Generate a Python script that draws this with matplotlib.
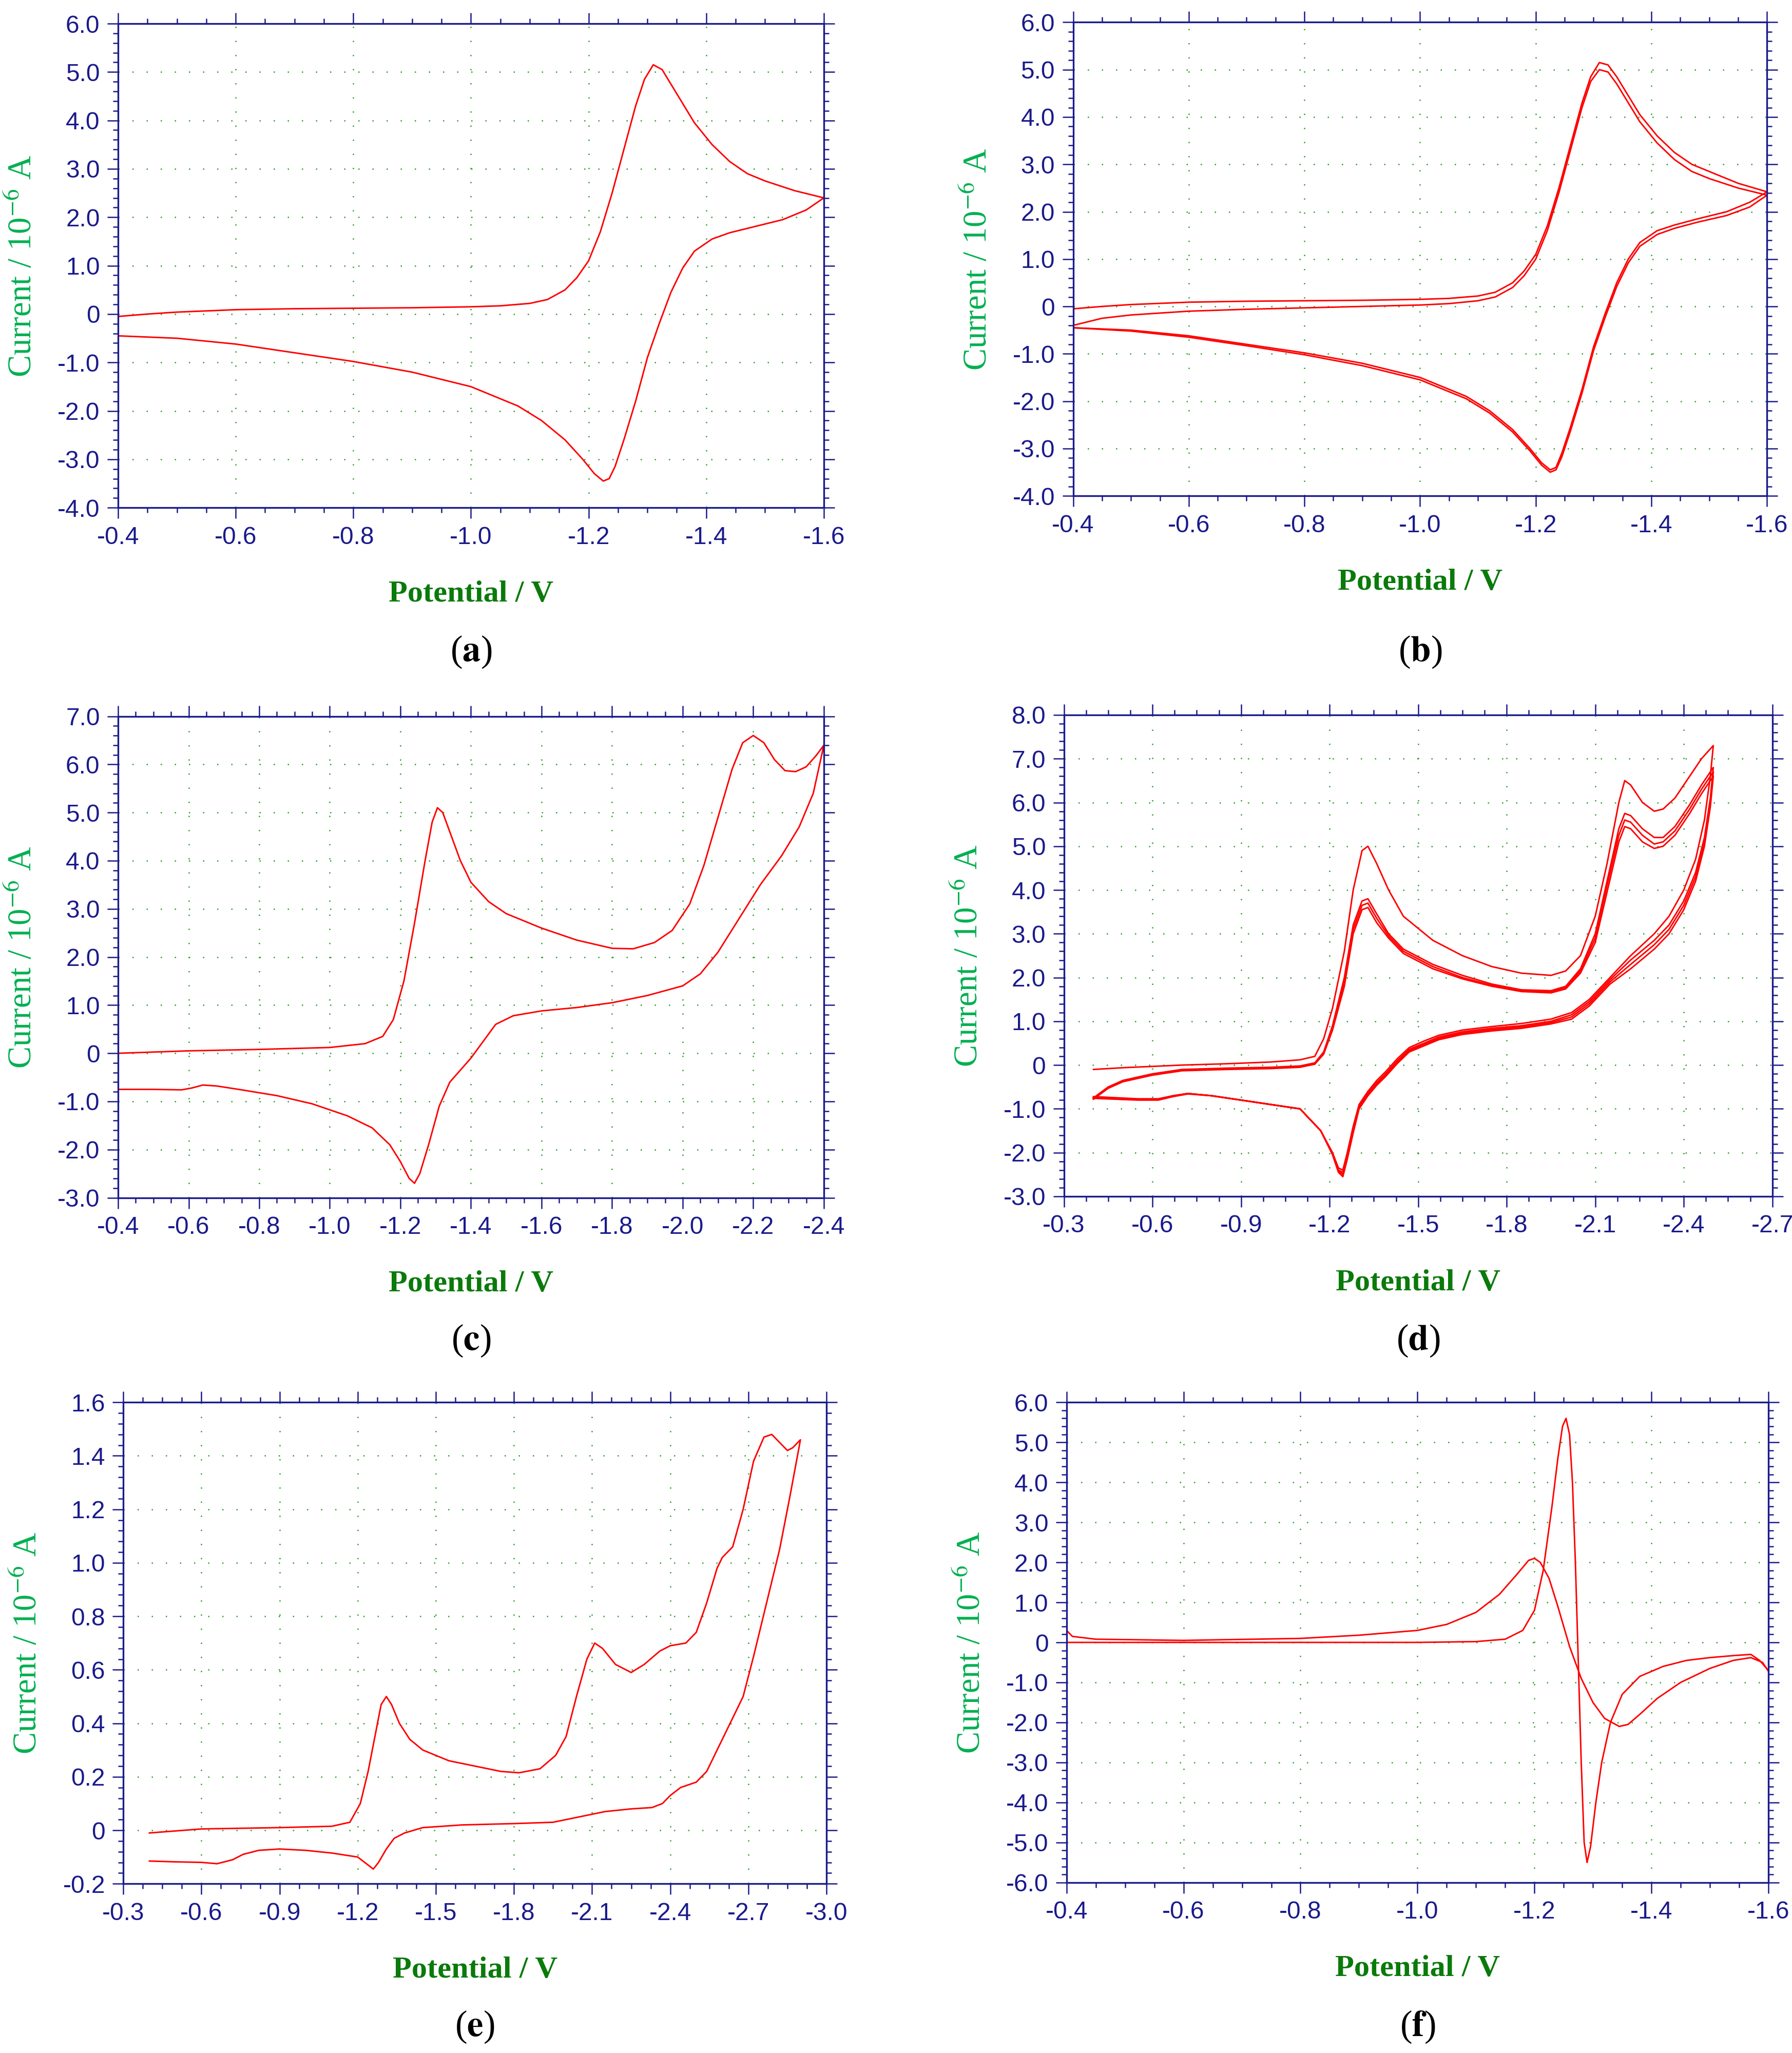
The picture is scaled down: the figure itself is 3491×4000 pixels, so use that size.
import matplotlib
matplotlib.use("Agg")
import matplotlib.pyplot as plt
from matplotlib.ticker import MultipleLocator, FuncFormatter

plt.rcParams["mathtext.fontset"] = "stix"

# ---------------- data (potential V, current 1e-6 A) ----------------
a_x = [-0.4,-0.45,-0.5,-0.6,-0.7,-0.8,-0.9,-1.0,-1.05,-1.1,-1.13,-1.16,-1.18,-1.2,-1.22,-1.24,-1.26,-1.28,-1.295,-1.31,-1.325,-1.34,-1.36,-1.38,-1.41,-1.44,-1.47,-1.5,-1.55,-1.6,
       -1.57,-1.53,-1.48,-1.44,-1.41,-1.38,-1.36,-1.34,-1.32,-1.3,-1.28,-1.26,-1.245,-1.235,-1.225,-1.21,-1.19,-1.16,-1.12,-1.08,-1.0,-0.9,-0.8,-0.7,-0.6,-0.5,-0.4]
a_y = [-0.05,0.0,0.04,0.09,0.11,0.12,0.13,0.15,0.17,0.22,0.3,0.5,0.75,1.1,1.7,2.5,3.4,4.3,4.85,5.15,5.05,4.75,4.35,3.95,3.5,3.15,2.9,2.75,2.55,2.4,
       2.15,1.95,1.8,1.68,1.55,1.3,0.95,0.45,-0.2,-0.9,-1.8,-2.6,-3.15,-3.4,-3.45,-3.3,-3.0,-2.6,-2.2,-1.9,-1.5,-1.2,-0.98,-0.8,-0.62,-0.5,-0.45]

b_x = a_x
b1_y = [-0.05,0.0,0.04,0.09,0.11,0.12,0.13,0.15,0.17,0.22,0.3,0.5,0.75,1.1,1.7,2.5,3.4,4.3,4.85,5.15,5.1,4.85,4.45,4.05,3.6,3.25,3.0,2.85,2.6,2.42,
        2.2,2.0,1.85,1.72,1.6,1.35,1.0,0.5,-0.15,-0.85,-1.75,-2.55,-3.1,-3.4,-3.45,-3.3,-3.0,-2.6,-2.2,-1.9,-1.5,-1.2,-0.98,-0.8,-0.62,-0.5,-0.45]
b2_y = [-0.4,-0.25,-0.18,-0.1,-0.06,-0.03,0.0,0.03,0.06,0.12,0.2,0.4,0.65,1.0,1.6,2.4,3.3,4.2,4.75,5.0,4.95,4.7,4.3,3.9,3.45,3.1,2.85,2.7,2.5,2.35,
        2.1,1.92,1.78,1.65,1.52,1.27,0.92,0.42,-0.23,-0.93,-1.83,-2.63,-3.18,-3.45,-3.5,-3.35,-3.05,-2.65,-2.25,-1.95,-1.55,-1.25,-1.02,-0.83,-0.65,-0.52,-0.45]

c_x = [-0.4,-0.6,-0.8,-1.0,-1.1,-1.15,-1.18,-1.21,-1.24,-1.27,-1.29,-1.305,-1.32,-1.34,-1.37,-1.4,-1.45,-1.5,-1.6,-1.7,-1.8,-1.86,-1.92,-1.97,-2.02,-2.06,-2.1,-2.14,-2.17,-2.2,-2.23,-2.26,-2.29,-2.32,-2.35,-2.38,-2.4,
       -2.37,-2.33,-2.28,-2.22,-2.16,-2.1,-2.05,-2.0,-1.9,-1.8,-1.7,-1.6,-1.52,-1.47,-1.43,-1.4,-1.37,-1.34,-1.31,-1.28,-1.255,-1.24,-1.225,-1.2,-1.17,-1.12,-1.05,-0.95,-0.85,-0.75,-0.68,-0.64,-0.61,-0.58,-0.5,-0.4]
c_y = [0.0,0.05,0.08,0.12,0.2,0.35,0.7,1.5,2.7,4.0,4.8,5.1,5.0,4.6,4.0,3.55,3.15,2.9,2.6,2.35,2.18,2.17,2.3,2.55,3.1,3.9,4.9,5.9,6.45,6.6,6.45,6.1,5.87,5.85,5.95,6.2,6.4,
       5.4,4.7,4.1,3.5,2.8,2.1,1.65,1.4,1.2,1.05,0.95,0.88,0.78,0.6,0.2,-0.1,-0.35,-0.6,-1.1,-1.9,-2.5,-2.7,-2.6,-2.25,-1.9,-1.55,-1.3,-1.05,-0.88,-0.76,-0.68,-0.66,-0.72,-0.76,-0.75,-0.75]

d_fx = [-0.4,-0.45,-0.5,-0.6,-0.7,-0.85,-1.0,-1.1,-1.15,-1.18,-1.21,-1.25,-1.28,-1.31,-1.33,-1.36,-1.4,-1.45,-1.55,-1.65,-1.75,-1.85,-1.95,-2.0,-2.05,-2.1,-2.14,-2.18,-2.2,-2.22,-2.26,-2.3,-2.33,-2.37,-2.42,-2.46,-2.5]
d1_fy = [-0.1,-0.08,-0.06,-0.03,0.0,0.03,0.07,0.12,0.2,0.6,1.3,2.6,4.0,4.9,5.0,4.6,4.0,3.4,2.85,2.5,2.25,2.1,2.05,2.15,2.5,3.4,4.6,6.0,6.5,6.4,6.0,5.8,5.85,6.1,6.6,7.0,7.3]
d2_fy = [-0.75,-0.5,-0.35,-0.2,-0.1,-0.07,-0.05,-0.02,0.05,0.3,0.9,2.0,3.2,3.75,3.8,3.45,3.0,2.65,2.3,2.05,1.85,1.72,1.7,1.8,2.2,3.0,4.2,5.4,5.75,5.7,5.4,5.2,5.2,5.45,5.95,6.4,6.8]
d3_fy = [-0.77,-0.52,-0.37,-0.22,-0.12,-0.09,-0.07,-0.04,0.03,0.27,0.85,1.9,3.1,3.65,3.7,3.35,2.95,2.6,2.25,2.0,1.82,1.7,1.68,1.77,2.15,2.9,4.1,5.25,5.6,5.55,5.25,5.05,5.1,5.35,5.85,6.3,6.7]
d4_fy = [-0.78,-0.53,-0.38,-0.23,-0.13,-0.1,-0.08,-0.05,0.02,0.25,0.8,1.8,3.0,3.55,3.6,3.25,2.9,2.55,2.2,1.97,1.8,1.68,1.65,1.74,2.1,2.8,3.95,5.1,5.45,5.4,5.1,4.95,5.0,5.25,5.75,6.2,6.6]
d_rx = [-2.5,-2.49,-2.47,-2.44,-2.4,-2.35,-2.3,-2.22,-2.15,-2.08,-2.02,-1.95,-1.85,-1.75,-1.65,-1.57,-1.52,-1.47,-1.43,-1.39,-1.36,-1.33,-1.3,-1.28,-1.26,-1.245,-1.23,-1.21,-1.17,-1.1,-1.0,-0.95,-0.85,-0.8,-0.72,-0.67,-0.62,-0.55,-0.4]
d1_ry = [7.3,6.6,5.6,4.7,4.0,3.4,3.0,2.5,2.0,1.5,1.2,1.05,0.95,0.88,0.8,0.68,0.55,0.4,0.15,-0.15,-0.35,-0.6,-0.9,-1.4,-2.0,-2.4,-2.35,-2.0,-1.5,-1.0,-0.9,-0.85,-0.75,-0.7,-0.65,-0.7,-0.77,-0.77,-0.72]
d2_ry = [6.8,6.1,5.2,4.4,3.75,3.2,2.85,2.4,1.95,1.45,1.15,1.0,0.9,0.84,0.76,0.64,0.5,0.36,0.1,-0.2,-0.4,-0.65,-0.95,-1.45,-2.05,-2.45,-2.4,-2.02,-1.5,-1.0,-0.9,-0.85,-0.75,-0.7,-0.65,-0.7,-0.78,-0.78,-0.74]
d3_ry = [6.7,6.0,5.1,4.3,3.65,3.1,2.75,2.3,1.9,1.4,1.1,0.97,0.87,0.81,0.73,0.61,0.47,0.33,0.07,-0.23,-0.43,-0.68,-0.98,-1.5,-2.1,-2.5,-2.42,-2.03,-1.5,-1.0,-0.9,-0.85,-0.75,-0.7,-0.65,-0.71,-0.79,-0.79,-0.75]
d4_ry = [6.6,5.9,5.0,4.2,3.55,3.0,2.65,2.2,1.85,1.35,1.05,0.94,0.84,0.78,0.7,0.58,0.44,0.3,0.04,-0.26,-0.46,-0.7,-1.0,-1.55,-2.15,-2.55,-2.45,-2.05,-1.5,-1.0,-0.9,-0.85,-0.75,-0.7,-0.66,-0.72,-0.8,-0.8,-0.76]

e_x = [-0.4,-0.6,-0.9,-1.1,-1.17,-1.21,-1.24,-1.27,-1.29,-1.31,-1.33,-1.36,-1.4,-1.45,-1.55,-1.65,-1.75,-1.82,-1.9,-1.96,-2.0,-2.04,-2.08,-2.11,-2.14,-2.19,-2.25,-2.3,-2.36,-2.4,-2.46,-2.5,-2.54,-2.58,-2.6,-2.64,-2.68,-2.72,-2.76,-2.79,-2.82,-2.85,-2.87,-2.9,
       -2.86,-2.82,-2.77,-2.72,-2.68,-2.63,-2.58,-2.54,-2.5,-2.44,-2.4,-2.37,-2.33,-2.25,-2.15,-2.05,-1.95,-1.8,-1.6,-1.45,-1.38,-1.34,-1.31,-1.28,-1.26,-1.24,-1.2,-1.1,-1.0,-0.9,-0.82,-0.76,-0.72,-0.66,-0.6,-0.5,-0.4]
e_y = [-0.01,0.005,0.01,0.015,0.03,0.1,0.22,0.37,0.47,0.5,0.47,0.4,0.34,0.3,0.26,0.24,0.22,0.215,0.23,0.28,0.35,0.5,0.64,0.7,0.68,0.62,0.59,0.62,0.67,0.69,0.7,0.74,0.85,0.98,1.02,1.06,1.2,1.38,1.47,1.48,1.45,1.42,1.43,1.46,
       1.25,1.05,0.85,0.65,0.5,0.4,0.3,0.22,0.18,0.16,0.13,0.1,0.085,0.08,0.07,0.05,0.03,0.025,0.02,0.01,-0.01,-0.03,-0.07,-0.12,-0.145,-0.13,-0.1,-0.085,-0.075,-0.07,-0.075,-0.09,-0.11,-0.125,-0.12,-0.118,-0.115]

f1_x = [-0.4,-0.6,-0.8,-1.0,-1.1,-1.15,-1.18,-1.2,-1.215,-1.23,-1.24,-1.248,-1.254,-1.26,-1.265,-1.27,-1.275,-1.28,-1.285,-1.29,-1.296,-1.305,-1.315,-1.33,-1.35,-1.38,-1.42,-1.46,-1.5,-1.54,-1.57,-1.585,-1.6]
f1_y = [0.0,0.0,0.0,0.0,0.02,0.08,0.3,0.8,1.8,3.4,4.6,5.4,5.6,5.2,4.0,2.0,-0.5,-3.0,-5.0,-5.5,-5.1,-4.0,-3.0,-2.0,-1.3,-0.85,-0.6,-0.45,-0.38,-0.33,-0.3,-0.45,-0.7]
f2_x = [-0.4,-0.41,-0.45,-0.6,-0.8,-0.9,-1.0,-1.05,-1.1,-1.14,-1.17,-1.19,-1.2,-1.21,-1.225,-1.24,-1.26,-1.28,-1.3,-1.32,-1.345,-1.36,-1.38,-1.41,-1.45,-1.5,-1.54,-1.57,-1.59,-1.6]
f2_y = [0.3,0.15,0.08,0.05,0.1,0.18,0.3,0.45,0.75,1.2,1.7,2.05,2.1,2.0,1.6,0.9,-0.1,-0.9,-1.5,-1.9,-2.1,-2.05,-1.8,-1.4,-1.0,-0.65,-0.45,-0.38,-0.5,-0.72]

# ---------------- styling ----------------
NAVY = "#1a1a8c"
GRID = "#2aa02a"
GREEN = "#00b050"
DKGREEN = "#0a7a0a"
W, H = 1366.0, 1565.0
TICKFONT = ["Liberation Sans Narrow", "Liberation Sans"]

fig = plt.figure(figsize=(3491/300, 4000/300), dpi=300)

def fmt_y(v, p):
    return "0" if abs(v) < 1e-9 else "%.1f" % v

def make_ax(box, xlim, ylim, xmaj, xmin, ymaj, ymin):
    x0, x1, y0, y1 = box
    ax = fig.add_axes([x0/W, 1-y1/H, (x1-x0)/W, (y1-y0)/H])
    ax.set_xlim(*xlim); ax.set_ylim(*ylim)
    ax.xaxis.set_major_locator(MultipleLocator(xmaj))
    ax.xaxis.set_minor_locator(MultipleLocator(xmin))
    ax.yaxis.set_major_locator(MultipleLocator(ymaj))
    ax.yaxis.set_minor_locator(MultipleLocator(ymin))
    ax.yaxis.set_major_formatter(FuncFormatter(fmt_y))
    ax.xaxis.set_major_formatter(FuncFormatter(lambda v, p: "%.1f" % v))
    for s in ax.spines.values():
        s.set_color(NAVY); s.set_linewidth(0.8)
    ax.tick_params(which="both", direction="out", colors=NAVY, top=True, right=True,
                   labelsize=11.5, width=0.6)
    ax.tick_params(which="major", length=5)
    ax.tick_params(which="minor", length=2.5)
    for lab in ax.get_xticklabels() + ax.get_yticklabels():
        lab.set_fontfamily(TICKFONT)
    ax.grid(True, which="major", color=GRID, linestyle=(0, (1, 10)), linewidth=0.6)
    cx = (x0 + x1) / 2 / W
    fig.text((x0 - 72) / W, 1-(y0+y1)/2/H, "Current / 10$^{\u22126}$ A", rotation=90, color=GREEN,
             family="Liberation Serif", fontsize=15.5, ha="center", va="center")
    fig.text(cx, 1-(y1+66)/H, "Potential / V", color=DKGREEN, family="Liberation Serif",
             fontweight="bold", fontsize=14.5, ha="center", va="center")
    return ax, cx

LW = 0.7
panels = []
ax, cx = make_ax((90, 628, 18, 387), (-0.4, -1.6), (-4, 6), 0.2, 0.05, 1.0, 0.2)
ax.plot(a_x, a_y, color="red", lw=LW); panels.append((cx, 497, "a"))
ax, cx = make_ax((818, 1347, 17, 378), (-0.4, -1.6), (-4, 6), 0.2, 0.05, 1.0, 0.2)
ax.plot(b_x, b1_y, color="red", lw=LW); ax.plot(b_x, b2_y, color="red", lw=LW)
panels.append((cx, 497, "b"))
ax, cx = make_ax((90, 628, 546, 913), (-0.4, -2.4), (-3, 7), 0.2, 0.05, 1.0, 0.2)
ax.plot(c_x, c_y, color="red", lw=LW); panels.append((cx, 1022, "c"))
ax, cx = make_ax((811, 1351, 545, 912), (-0.3, -2.7), (-3, 8), 0.3, 0.075, 1.0, 0.2)
for fy, ry in [(d1_fy, d1_ry), (d2_fy, d2_ry), (d3_fy, d3_ry), (d4_fy, d4_ry)]:
    ax.plot(d_fx + d_rx, fy + ry, color="red", lw=LW)
panels.append((cx, 1022, "d"))
ax, cx = make_ax((94, 630, 1069, 1436), (-0.3, -3.0), (-0.2, 1.6), 0.3, 0.075, 0.2, 0.04)
ax.plot(e_x, e_y, color="red", lw=LW); panels.append((cx, 1545, "e"))
ax, cx = make_ax((813, 1348, 1069, 1435), (-0.4, -1.6), (-6, 6), 0.2, 0.05, 1.0, 0.2)
ax.plot(f1_x, f1_y, color="red", lw=LW); ax.plot(f2_x, f2_y, color="red", lw=LW)
panels.append((cx, 1545, "f"))

for cx, y, l in panels:
    fig.text(cx, 1-y/H, "(" + r"$\mathbf{" + l + "}$" + ")", family="Liberation Serif",
             fontsize=17, ha="center", va="center")

fig.savefig("out.png", dpi=300)
